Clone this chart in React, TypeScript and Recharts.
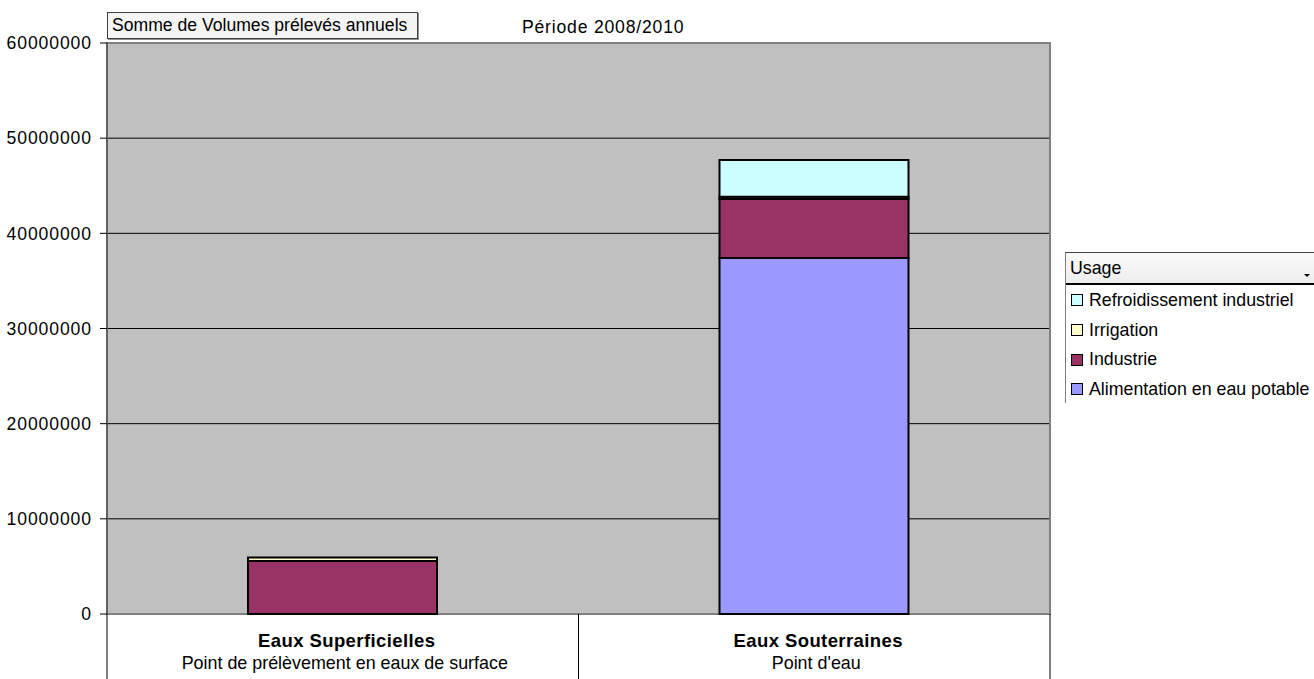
import React from "react";
import { BarChart, Bar, XAxis, YAxis, CartesianGrid, ReferenceArea } from "recharts";

const categories = ["Eaux Superficielles", "Eaux Souterraines"];
const categorySubLabels = ["Point de prélèvement en eaux de surface", "Point d'eau"];

const alimentationValues = [0, 37400000];
const industrieValues = [5570000, 6200000];
const irrigationValues = [380000, 250000];
const refroidissementValues = [0, 3850000];

const yTicks = [0, 10000000, 20000000, 30000000, 40000000, 50000000, 60000000];

const seriesKeys = ["alimentation", "industrie", "irrigation", "refroidissement"];
const seriesNames = [
  "Alimentation en eau potable",
  "Industrie",
  "Irrigation",
  "Refroidissement industriel",
];
const seriesColors = ["#9999FF", "#993366", "#FFFFCC", "#CCFFFF"];

const chartTitle = "Somme de Volumes prélevés annuels";
const periodLabel = "Période 2008/2010";
const legendTitle = "Usage";

const data = categories.map((name, i) => ({
  name,
  alimentation: alimentationValues[i],
  industrie: industrieValues[i],
  irrigation: irrigationValues[i],
  refroidissement: refroidissementValues[i],
}));

const W = 1314;
const H = 679;
const PLOT_LEFT = 107;
const PLOT_RIGHT = 1050;
const PLOT_TOP = 43;
const PLOT_BOTTOM = 614;
const FONT = "'Liberation Sans', Arial, sans-serif";
const FS = 17.6;

function CategoryTick(props: any) {
  const { x, payload } = props;
  const idx = categories.indexOf(payload.value);
  const half = (PLOT_RIGHT - PLOT_LEFT) / categories.length / 2;
  return (
    <g>
      <line x1={x - half} x2={x - half} y1={PLOT_BOTTOM} y2={H} stroke="#000" strokeWidth={1} />
      <line x1={x + half} x2={x + half} y1={PLOT_BOTTOM} y2={H} stroke="#000" strokeWidth={1} />
      <text
        x={x + 4}
        y={647}
        textAnchor="middle"
        fontWeight="bold"
        fontSize={18.5}
        letterSpacing={0.4}
        fill="#000"
        fontFamily={FONT}
      >
        {payload.value}
      </text>
      <text x={x + 2} y={669} textAnchor="middle" fontSize={17.9} fill="#000" fontFamily={FONT}>
        {categorySubLabels[idx]}
      </text>
    </g>
  );
}

export default function App() {
  const legendOrder = [3, 2, 1, 0];
  return (
    <div
      style={{
        position: "absolute",
        left: 0,
        top: 0,
        width: W,
        height: H,
        background: "#fff",
        fontFamily: FONT,
        overflow: "hidden",
      }}
    >
      <BarChart
        width={W}
        height={H}
        data={data}
        margin={{ top: PLOT_TOP, right: W - PLOT_RIGHT, bottom: 0, left: 0 }}
        barCategoryGap={0}
      >
        <CartesianGrid vertical={false} stroke="#000" strokeWidth={1} fill="#C0C0C0" fillOpacity={1} />
        <XAxis
          dataKey="name"
          height={H - PLOT_BOTTOM}
          axisLine={false}
          tickLine={false}
          interval={0}
          tick={<CategoryTick />}
        />
        <YAxis
          width={PLOT_LEFT}
          domain={[0, 60000000]}
          ticks={yTicks}
          interval={0}
          tickSize={7}
          tickMargin={8}
          axisLine={{ stroke: "#404040", strokeWidth: 1 }}
          tickLine={{ stroke: "#000", strokeWidth: 1 }}
          tick={{ fill: "#000", fontSize: FS, fontFamily: FONT, letterSpacing: 0.9 }}
        />
        {seriesKeys.map((k, i) => (
          <Bar
            key={k}
            dataKey={k}
            name={seriesNames[i]}
            stackId="a"
            fill={seriesColors[i]}
            stroke="#000"
            strokeWidth={2}
            barSize={189}
            isAnimationActive={false}
          />
        ))}
        <ReferenceArea
          y1={0}
          y2={60000000}
          fill="none"
          fillOpacity={0}
          stroke="#808080"
          strokeWidth={2}
        />
      </BarChart>

      <div
        style={{
          position: "absolute",
          left: 107,
          top: 12,
          width: 305,
          height: 25,
          border: "1px solid #404040",
          boxShadow: "1px 1px 0 #909090",
          background: "#F4F4F4",
          fontSize: FS,
          lineHeight: "25px",
          paddingLeft: 4,
          boxSizing: "content-box",
          color: "#000",
          whiteSpace: "nowrap",
        }}
      >
        {chartTitle}
      </div>
      <div
        style={{
          position: "absolute",
          left: 522,
          top: 15,
          fontSize: FS,
          letterSpacing: 0.8,
          lineHeight: "25px",
          color: "#000",
          whiteSpace: "nowrap",
        }}
      >
        {periodLabel}
      </div>

      <div
        style={{
          position: "absolute",
          left: 1065,
          top: 252,
          width: 260,
          height: 150,
          borderLeft: "1px solid #808080",
          borderTop: "1px solid #404040",
          color: "#000",
          fontSize: 17.8,
        }}
      >
        <div
          style={{
            position: "relative",
            height: 30,
            lineHeight: "30px",
            paddingLeft: 4,
            background: "linear-gradient(#FAFAFA, #EEEEEE)",
            borderBottom: "2px solid #000",
          }}
        >
          {legendTitle}
          <div
            style={{
              position: "absolute",
              left: 238,
              top: 21,
              width: 0,
              height: 0,
              borderLeft: "3px solid transparent",
              borderRight: "3px solid transparent",
              borderTop: "3px solid #000",
            }}
          />
        </div>
        {legendOrder.map((i) => (
          <div
            key={seriesKeys[i]}
            style={{
              display: "flex",
              alignItems: "center",
              height: 28.7,
              paddingLeft: 5,
              paddingTop: 1,
              whiteSpace: "nowrap",
            }}
          >
            <div
              style={{
                width: 10,
                height: 10,
                border: "1.5px solid #000",
                background: seriesColors[i],
                marginRight: 6,
                flexShrink: 0,
              }}
            />
            <span>{seriesNames[i]}</span>
          </div>
        ))}
      </div>
    </div>
  );
}
